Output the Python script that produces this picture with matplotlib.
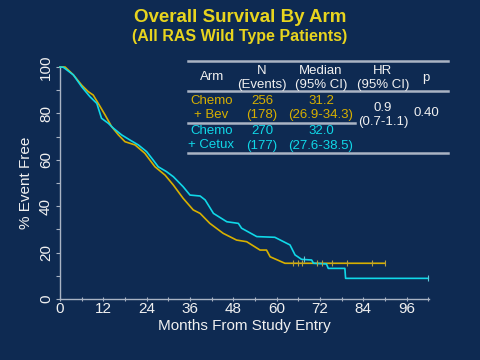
import matplotlib
matplotlib.use("Agg")
import matplotlib.pyplot as plt
from matplotlib.ticker import MultipleLocator
import numpy as np

# ---- data ----
bev_t = [0, 1.4, 2.3, 3.7, 6.0, 7.8, 9.2, 10.6, 12.5, 14.3, 16.2, 18.0, 20.8, 23.5, 26.3,
         29.1, 31.4, 34.1, 36.9, 38.8, 41.5, 45.2, 48.9, 51.7, 55.4, 57.2, 58.2, 62.3, 90.0]
bev_s = [100, 100, 98.7, 96.6, 92.2, 89.4, 87.9, 84.3, 79.3, 74.3, 70.7, 67.8, 66.4, 62.8, 57.0,
         53.4, 49.1, 43.4, 38.4, 36.9, 32.6, 28.3, 25.4, 24.7, 21.1, 21.1, 18.2, 15.4, 15.4]
bev_cens_t = [64.6, 66.0, 66.9, 71.1, 72.5, 75.2, 79.4, 86.3, 90.0]

cet_t = [0, 0.9, 3.7, 6.0, 8.3, 10.2, 11.5, 13.4, 14.8, 17.1, 19.4, 21.7, 24.0, 25.8, 27.2,
         29.5, 31.4, 34.1, 36.0, 38.8, 40.2, 42.5, 46.2, 49.4, 50.3, 54.5, 59.5, 63.7, 65.1,
         66.9, 69.7, 70.2, 73.8, 74.3, 78.9, 79.1, 102.0]
cet_s = [100, 99.9, 96.6, 91.5, 87.2, 84.3, 77.9, 75.7, 73.6, 70.7, 68.5, 66.4, 63.5, 59.9, 57.0,
         54.9, 52.7, 48.4, 44.8, 44.4, 42.7, 36.9, 33.3, 32.6, 30.5, 26.9, 26.6, 23.3, 19.0,
         17.1, 16.8, 15.4, 15.1, 13.2, 13.2, 8.9, 8.9]
cet_cens_t = [67.5, 102.0]

x_ticks = [0, 12, 24, 36, 48, 60, 72, 84, 96]
y_ticks = [0, 20, 40, 60, 80, 100]

col_headers = [("Arm", ""), ("N", "(Events)"), ("Median", "(95% CI)"), ("HR", "(95% CI)"), ("p", "")]
row_arm = [("Chemo", "+ Bev"), ("Chemo", "+ Cetux")]
row_n = [("256", "(178)"), ("270", "(177)")]
row_median = [("31.2", "(26.9-34.3)"), ("32.0", "(27.6-38.5)")]
hr_text = ("0.9", "(0.7-1.1)")
p_text = "0.40"

BG = "#0e2a52"
GOLD = "#d8b000"
CYAN = "#10d8e8"
TITLE = "#e8d41e"
AXC = "#aab4c4"
WHITE = "#f0f0f0"

plt.rcParams['font.family'] = ['Liberation Sans', 'DejaVu Sans']

fig = plt.figure(figsize=(4.8, 3.6), dpi=100, facecolor=BG)
ax = fig.add_axes([60/480, 1-299/360, (429-60)/480, (299-67)/360])
ax.set_facecolor(BG)
ax.set_xlim(0, 102.2)
ax.set_ylim(0, 100)

ax.plot(bev_t, bev_s, color=GOLD, lw=1.2, clip_on=False, zorder=3)
ax.plot(cet_t, cet_s, color=CYAN, lw=1.2, clip_on=False, zorder=4)

bcs = np.interp(bev_cens_t, bev_t, bev_s)
ccs = np.interp(cet_cens_t, cet_t, cet_s)
ax.plot(bev_cens_t, bcs, ls="none", marker="|", ms=4, mew=0.8, color="#b8a040", zorder=5, clip_on=False)
ax.plot(cet_cens_t, ccs, ls="none", marker="|", ms=4, mew=0.8, color="#60c8d8", zorder=5, clip_on=False)

for s in ["top", "right"]:
    ax.spines[s].set_visible(False)
for s in ["left", "bottom"]:
    ax.spines[s].set_color(AXC)
    ax.spines[s].set_linewidth(1.0)

ax.set_xticks(x_ticks)
ax.set_yticks(y_ticks)
ax.xaxis.set_minor_locator(MultipleLocator(6))
ax.yaxis.set_minor_locator(MultipleLocator(10))
ax.tick_params(axis="both", which="both", colors=AXC, labelcolor=WHITE, labelsize=11, width=0.8)
ax.tick_params(axis="x", which="both", direction="inout", length=3, pad=1)
ax.tick_params(axis="y", which="both", direction="out", length=3, pad=2)
for lab in ax.get_yticklabels():
    lab.set_rotation(90)
    lab.set_va("center")
ax.set_xlabel("Months From Study Entry", color=WHITE, fontsize=11, labelpad=2)
ax.set_ylabel("% Event Free", color=WHITE, fontsize=11, labelpad=4)

# titles
fig.text(0.5, 1-17/360, "Overall Survival By Arm", color=TITLE, fontsize=13.5,
         fontweight="bold", ha="center", va="center")
fig.text(0.5, 1-37/360, "(All RAS Wild Type Patients)", color=TITLE, fontsize=11.5,
         fontweight="bold", ha="center", va="center")

# table (y values are text baselines in pixels from top)
def T(x, y, s, c):
    fig.text(x/480, 1-y/360, s, color=c, fontsize=9.5, ha="center", va="baseline")

def HL(x0, x1, y):
    fig.add_artist(plt.Line2D([x0/480, x1/480], [1-y/360, 1-y/360], color=AXC, lw=1.8))

HL(188, 448, 61)
HL(188, 448, 91)
HL(188, 355, 123)
HL(188, 448, 153)

col_x = [212, 262, 321, 383, 426]
for (a, b), x in zip(col_headers, col_x):
    if b:
        T(x, 73.5, a, WHITE)
        T(x, 88, b, WHITE)
    else:
        T(x, 80.5, a, WHITE)

row_cols = [GOLD, CYAN]
row_y = [(104, 118.5), (134, 148.5)]
for i in range(2):
    y1, y2 = row_y[i]
    c = row_cols[i]
    T(col_x[0], y1, row_arm[i][0], c)
    T(col_x[0] - 1, y2, row_arm[i][1], c)
    T(col_x[1], y1, row_n[i][0], c)
    T(col_x[1], y2, row_n[i][1], c)
    T(col_x[2], y1, row_median[i][0], c)
    T(col_x[2], y2, row_median[i][1], c)
T(col_x[3], 111, hr_text[0], WHITE)
T(col_x[3], 125.5, hr_text[1], WHITE)
T(col_x[4], 115.5, p_text, WHITE)

fig.savefig("out.png", dpi=100, facecolor=BG)
